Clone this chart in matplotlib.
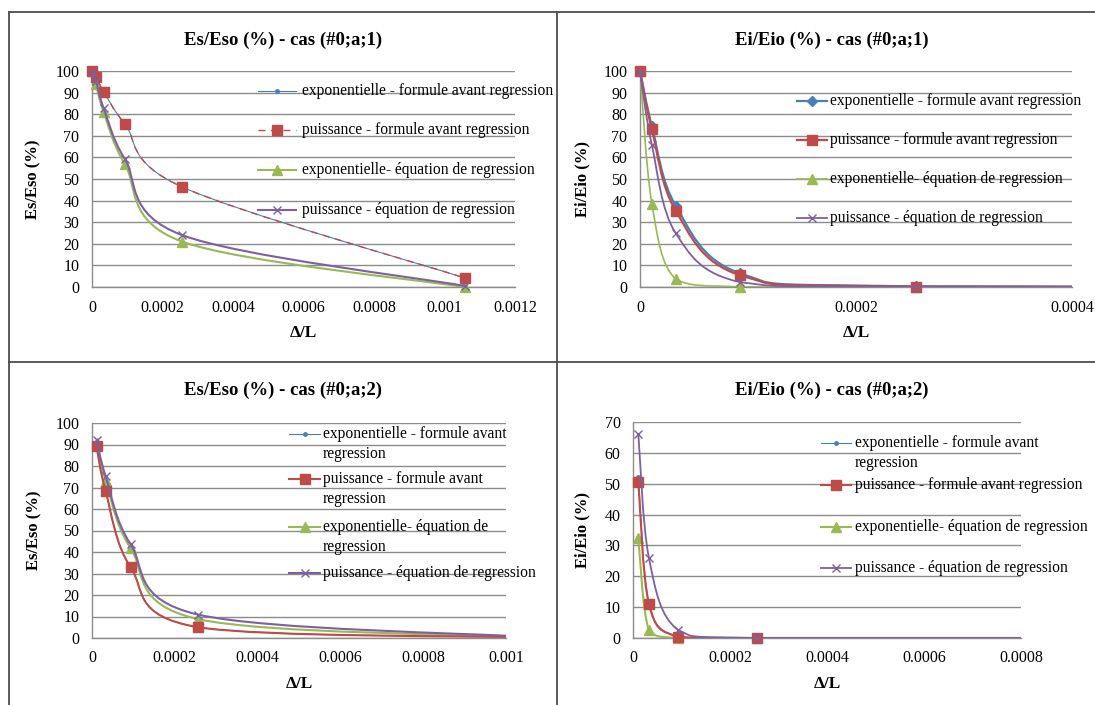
"""Four Excel-style decay charts (Es/Eso, Ei/Eio) laid out in a bordered table."""

import matplotlib
matplotlib.use("Agg")
import matplotlib.pyplot as plt
import numpy as np
from matplotlib.lines import Line2D
from matplotlib.patches import PathPatch
from matplotlib.path import Path

W, H = 1095, 705

# data -----------------------------------------------------------------------
x_pts = [0.0, 1.1e-5, 3.3e-5, 9.3e-5, 2.56e-4, 1.057e-3]

# Es/Eso (%) - cas (#0;a;1)
p1_exp_formula = [100, 97.4, 90.5, 75.6, 46.3, 4.2]
p1_pow_formula = [100, 97.4, 90.5, 75.6, 46.3, 4.2]
p1_exp_reg = [100, 93.8, 81, 57, 21, 0]
p1_pow_reg = [99.5, 95.3, 82.8, 59.3, 24, 0.5]

# Ei/Eio (%) - cas (#0;a;1)
p2_exp_formula = [100, 74.5, 37.7, 6.3, 0.3, 0]
p2_pow_formula = [100, 73, 35.4, 5.4, 0.2, 0]
p2_exp_reg = [100, 38.6, 3.7, 0.1, 0, 0]
p2_pow_reg = [99.5, 65.7, 25, 2.2, 0.1, 0]

# Es/Eso (%) - cas (#0;a;2)  (no point at 0)
p3_exp_formula = [89.1, 68.2, 33, 5, 0.3]
p3_pow_formula = [89.1, 68.2, 33, 5, 0.3]
p3_exp_reg = [90.7, 73.2, 41.9, 8.8, 0.4]
p3_pow_reg = [92.2, 75.2, 43.7, 10.9, 0.5]

# Ei/Eio (%) - cas (#0;a;2)
p4_exp_formula = [52.3, 11.5, 0.5, 0, 0]
p4_pow_formula = [50.6, 10.9, 0.4, 0, 0]
p4_exp_reg = [32.3, 2.6, 0, 0, 0]
p4_pow_reg = [66.1, 25.8, 2.6, 0, 0]

labels_long = [
    "exponentielle - formule avant regression",
    "puissance - formule avant regression",
    "exponentielle- équation de regression",
    "puissance - équation de regression",
]
labels_p3 = [
    "exponentielle - formule avant\nregression",
    "puissance - formule avant\nregression",
    "exponentielle- équation de\nregression",
    "puissance - équation de regression",
]
labels_p4 = [
    "exponentielle - formule avant\nregression",
    "puissance - formule avant regression",
    "exponentielle- équation de regression",
    "puissance - équation de regression",
]

BLUE, RED, GREEN, PURPLE = "#4a7ebb", "#be4b48", "#98b954", "#7d60a0"
GRID = "#8c8c8c"
FONT = "Liberation Serif"

plt.rcParams["font.family"] = FONT


def fx(px):
    return px / W


def fy(py):
    return 1 - py / H


def smooth_path(xs, ys):
    # Excel-like smoothed line: cubic Bezier through the points
    p = np.column_stack([xs, ys]).astype(float)
    n = len(p)
    verts = [p[0]]
    codes = [Path.MOVETO]
    for i in range(n - 1):
        a = p[i - 1] if i > 0 else p[i]
        b, c = p[i], p[i + 1]
        d = p[i + 2] if i + 2 < n else p[i + 1]
        c1 = b + (c - a) / 6.0
        c2 = c - (d - b) / 6.0
        lo, hi = min(b[1], c[1]), max(b[1], c[1])
        c1[1] = np.clip(c1[1], lo, hi)
        c2[1] = np.clip(c2[1], lo, hi)
        verts += [c1, c2, c]
        codes += [Path.CURVE4] * 3
    return Path(verts, codes)


def fmt(v, _pos=None):
    s = f"{v:.4f}".rstrip("0").rstrip(".")
    return s


def make_axes(fig, box, xmax, ymax, ylabel, title, title_xy, ylab_x, xlab_y):
    left, top, right, bottom = box
    ax = fig.add_axes([fx(left), fy(bottom), (right - left) / W, (bottom - top) / H])
    ax.set_xlim(0, xmax)
    ax.set_ylim(0, ymax)
    ax.set_xticks(np.arange(0, xmax + 1e-9, 0.0002))
    ax.set_yticks(np.arange(0, ymax + 0.1, 10))
    ax.xaxis.set_major_formatter(plt.FuncFormatter(fmt))
    ax.yaxis.set_major_formatter(plt.FuncFormatter(lambda v, p: f"{v:.0f}"))
    ax.grid(axis="y", color=GRID, lw=1.0)
    ax.set_axisbelow(True)
    for s in ("top", "right"):
        ax.spines[s].set_visible(False)
    for s in ("left", "bottom"):
        ax.spines[s].set_color(GRID)
        ax.spines[s].set_linewidth(1.0)
    ax.tick_params(axis="both", length=0, labelsize=11.5)
    ax.tick_params(axis="y", pad=9)
    ax.tick_params(axis="x", pad=9)
    ax.set_ylabel(ylabel, fontsize=12, fontweight="bold")
    ax.yaxis.set_label_coords((ylab_x - left) / (right - left), 0.5)
    ax.set_xlabel("Δ/L", fontsize=12.5, fontweight="bold", va="center")
    ax.xaxis.set_label_coords(0.5, (bottom - xlab_y) / (bottom - top))
    fig.text(fx(title_xy[0]), fy(title_xy[1]), title, ha="center", va="center",
             fontsize=13.5, fontweight="bold")
    return ax


def draw_series(ax, xs, ys, style):
    path = smooth_path(xs, ys)
    ax.add_patch(PathPatch(path, fill=False, edgecolor=style["color"], lw=style["lw"],
                           ls=style.get("ls", "-"), zorder=style.get("z", 3),
                           capstyle="butt"))
    xmax = ax.get_xlim()[1]
    keep = [i for i, v in enumerate(xs) if v <= xmax]
    ax.plot([xs[i] for i in keep], [ys[i] for i in keep], ls="none",
            marker=style["marker"], ms=style["ms"], color=style["color"],
            mec=style["color"], mew=style.get("mew", 1.0), clip_on=False,
            zorder=style.get("z", 3) + 0.5)


def draw_legend(fig, styles, labels, x0, x1, xt, ys, fs=11.2):
    for st, lab, y in zip(styles, labels, ys):
        fig.add_artist(Line2D([fx(x0), fx(x1)], [fy(y), fy(y)], transform=fig.transFigure,
                              color=st["color"], lw=st["lw"], ls=st.get("ls", "-")))
        fig.add_artist(Line2D([fx((x0 + x1) / 2)], [fy(y)], transform=fig.transFigure,
                              ls="none", marker=st["marker"], ms=st["ms"],
                              color=st["color"], mec=st["color"], mew=st.get("mew", 1.0)))
        for k, line in enumerate(lab.split("\n")):
            fig.text(fx(xt), fy(y + 20 * k), line, ha="left", va="center", fontsize=fs)


def styles(blue_lw, blue_marker, blue_ms, red_lw, red_ls, green_lw, purple_lw):
    return [
        dict(color=BLUE, lw=blue_lw, marker=blue_marker, ms=blue_ms, z=3),
        dict(color=RED, lw=red_lw, ls=red_ls, marker="s", ms=7, z=4),
        dict(color=GREEN, lw=green_lw, marker="^", ms=7, z=3),
        dict(color=PURPLE, lw=purple_lw, marker="x", ms=6, mew=1.0, z=5),
    ]


fig = plt.figure(figsize=(W / 100, H / 100), dpi=100)

# table borders
for xs_, ys_ in [((9, W), (12, 12)), ((9, W), (362, 362)), ((9, 9), (12, H)), ((557, 557), (12, H))]:
    fig.add_artist(Line2D([fx(v) for v in xs_], [fy(v) for v in ys_],
                          transform=fig.transFigure, color="#4d4d4d", lw=1.3))

# panel 1
ax1 = make_axes(fig, (92, 71, 515, 287), 0.0012, 100, "Es/Eso (%)",
                "Es/Eso (%) - cas (#0;a;1)", (283, 40), 41, 333)
st1 = styles(0.8, "o", 2.5, 1.0, (0, (5, 4)), 1.5, 1.5)
for ys_, st in zip([p1_exp_formula, p1_pow_formula, p1_exp_reg, p1_pow_reg], st1):
    draw_series(ax1, x_pts, ys_, st)
draw_legend(fig, st1, labels_long, 258, 296, 302, [91, 130, 170, 210])

# panel 2
ax2 = make_axes(fig, (640, 71, 1072, 287), 0.0004, 100, "Ei/Eio (%)",
                "Ei/Eio (%) - cas (#0;a;1)", (832, 40), 590, 333)
st2 = styles(1.6, "D", 5, 1.6, "-", 1.2, 1.3)
for ys_, st in zip([p2_exp_formula, p2_pow_formula, p2_exp_reg, p2_pow_reg], st2):
    draw_series(ax2, x_pts, ys_, st)
draw_legend(fig, st2, labels_long, 797, 827, 830, [101, 140, 179, 218])

# panel 3
ax3 = make_axes(fig, (92, 423, 506, 638), 0.001, 100, "Es/Eso (%)",
                "Es/Eso (%) - cas (#0;a;2)", (283, 390), 42, 684)
st3 = styles(0.8, "o", 2.5, 1.5, "-", 1.5, 1.5)
for ys_, st in zip([p3_exp_formula, p3_pow_formula, p3_exp_reg, p3_pow_reg], st3):
    draw_series(ax3, x_pts[1:], ys_, st)
draw_legend(fig, st3, labels_p3, 289, 320, 323, [434, 479, 527, 573])

# panel 4
ax4 = make_axes(fig, (633, 422, 1021, 638), 0.0008, 70, "Ei/Eio (%)",
                "Ei/Eio (%) - cas (#0;a;2)", (832, 390), 590, 684)
st4 = styles(0.8, "o", 2.5, 1.5, "-", 1.5, 1.3)
for ys_, st in zip([p4_exp_formula, p4_pow_formula, p4_exp_reg, p4_pow_reg], st4):
    draw_series(ax4, x_pts[1:], ys_, st)
draw_legend(fig, st4, labels_p4, 821, 851, 855, [443, 485, 527, 568])

fig.savefig("out.png", dpi=100)
